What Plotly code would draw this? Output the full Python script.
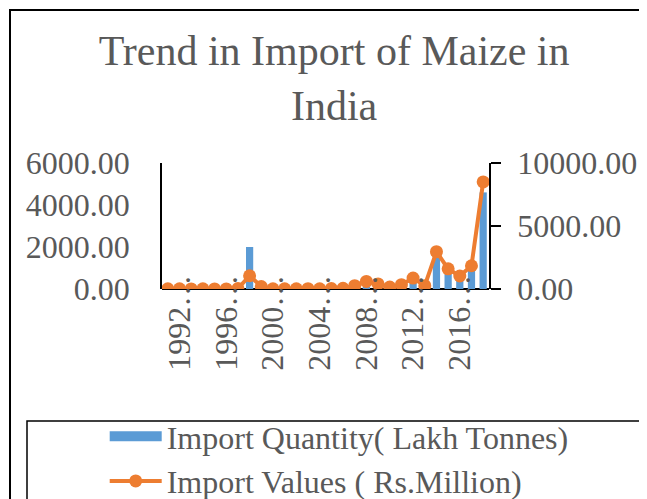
import plotly.graph_objects as go

years = [f"{y}-{str(y + 1)[-2:]}" for y in range(1991, 2019)]
quantity = [12, 8, 5, 6, 10, 4, 20, 2000, 30, 10, 8, 6, 15, 12, 20, 25, 40, 60, 50, 10, 30, 300, 40, 1650, 900, 600, 1000, 4600]
values = [15, 10, 5, 10, 8, 5, 30, 1050, 200, 20, 15, 10, 25, 20, 40, 60, 260, 600, 400, 160, 340, 870, 260, 2960, 1600, 1030, 1845, 8500]
tick_idx = list(range(1, 28, 4))
tick_vals = [years[i] for i in tick_idx]
tick_text = [years[i][:4] + "\u2026" for i in tick_idx]

left_ticks = [0, 2000, 4000, 6000]
right_ticks = [0, 5000, 10000]

FONT = "Liberation Serif"
GRAY = "#595959"
BLUE = "#5B9BD5"
ORANGE = "#ED7D31"
W, H = 647, 499
OFF = 8  # page body margin
L, R, T, B = 154, 166, 155, 218
pw, ph = W - L - R, H - T - B

def px_x(p):
    return (p - OFF - L) / pw

def px_y(p):
    return (H - B - (p - OFF)) / ph

fig = go.Figure()
fig.add_trace(go.Bar(
    x=years, y=quantity, name="Import Quantity( Lakh Tonnes)",
    marker=dict(color=BLUE, line=dict(width=0)), width=0.62,
    legendgroup="a", showlegend=False, yaxis="y"))
# legend key for the bar series (wide block like the original legend key)
fig.add_trace(go.Scatter(
    x=[None], y=[None], name="Import Quantity( Lakh Tonnes)", mode="lines",
    line=dict(color=BLUE, width=18), legendgroup="a", showlegend=True, yaxis="y"))
fig.add_trace(go.Scatter(
    x=years, y=values, name="Import Values ( Rs.Million)",
    mode="lines+markers", line=dict(color=ORANGE, width=4),
    marker=dict(color=ORANGE, size=13), legendgroup="b", yaxis="y2"))

fig.update_layout(
    width=W, height=H, autosize=False,
    margin=dict(l=L, r=R, t=T, b=B, autoexpand=False),
    paper_bgcolor="white", plot_bgcolor="white",
    font=dict(family=FONT, color=GRAY, size=32),
    title=dict(text="Trend in Import of Maize in<br>India", font=dict(size=42, color=GRAY, family=FONT),
               xref="container", x=0.504, xanchor="center", yref="container", y=0.8858, yanchor="top"),
    xaxis=dict(type="category", range=[-0.5, 27.5], showline=False, anchor="free", position=0.171,
               showgrid=False, ticks="", tickmode="array", tickvals=tick_vals, ticktext=tick_text,
               tickangle=-90, tickfont=dict(size=32, color=GRAY), zeroline=False, automargin=False),
    yaxis=dict(range=[0, 6000], tickvals=left_ticks, tickformat=".2f", showline=True, linecolor="black",
               linewidth=1.5, showgrid=False, ticks="", zeroline=True, zerolinecolor="black",
               zerolinewidth=1.5, ticklabelstandoff=24, automargin=False,
               tickfont=dict(size=32, color=GRAY)),
    yaxis2=dict(range=[0, 10000], tickvals=right_ticks, tickformat=".2f", overlaying="y", side="right",
                showline=True, linecolor="black", linewidth=1.5, showgrid=False, ticks="outside", ticklen=10,
                tickwidth=1.5, tickcolor="black", zeroline=False, ticklabelstandoff=10, automargin=False,
                tickfont=dict(size=32, color=GRAY)),
    showlegend=True,
    legend=dict(xref="container", yref="container", x=96.7 / W, xanchor="left", y=1 - 401 / H, yanchor="top",
                bgcolor="rgba(0,0,0,0)", font=dict(size=32, color=GRAY, family=FONT),
                traceorder="normal", itemwidth=52),
    shapes=[
        dict(type="rect", xref="paper", yref="paper", x0=px_x(10), x1=px_x(700), y0=px_y(560), y1=px_y(10),
             line=dict(color="black", width=2), fillcolor="rgba(0,0,0,0)", layer="below"),
        dict(type="rect", xref="paper", yref="paper", x0=px_x(27), x1=px_x(642), y0=px_y(540), y1=px_y(421),
             line=dict(color="black", width=1.5), fillcolor="rgba(0,0,0,0)", layer="below"),
    ],
)

fig.write_html("out.html")
